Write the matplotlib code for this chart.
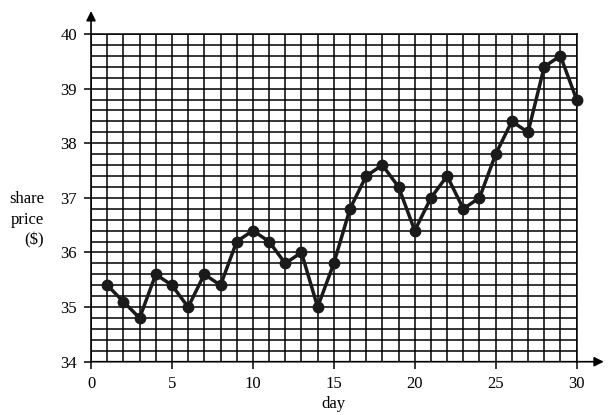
import numpy as np
import matplotlib.pyplot as plt
from matplotlib.ticker import MultipleLocator

days = list(range(1, 31))
price = [35.4, 35.1, 34.8, 35.6, 35.4, 35.0, 35.6, 35.4, 36.2, 36.4,
         36.2, 35.8, 36.0, 35.0, 35.8, 36.8, 37.4, 37.6, 37.2, 36.4,
         37.0, 37.4, 36.8, 37.0, 37.8, 38.4, 38.2, 39.4, 39.6, 38.8]
x_ticks = [0, 5, 10, 15, 20, 25, 30]
y_ticks = [34, 35, 36, 37, 38, 39, 40]

plt.rcParams['font.family'] = ['Liberation Serif', 'DejaVu Serif']

fig = plt.figure(figsize=(6.13, 4.15), dpi=100)
ax = fig.add_axes([0.1485, 0.1284, 0.7921, 0.7897])

ax.set_xlim(0, 30)
ax.set_ylim(34, 40)
ax.set_xticks(x_ticks)
ax.set_yticks(y_ticks)
ax.xaxis.set_minor_locator(MultipleLocator(1))
ax.yaxis.set_minor_locator(MultipleLocator(0.2))
ax.grid(True, which='both', color='black', lw=1.1)
ax.tick_params(which='major', direction='out', length=5, width=1.1,
               labelsize=12, colors='black', pad=5)
ax.tick_params(which='minor', length=0)

for s in ['left', 'bottom']:
    ax.spines[s].set_visible(False)
for s in ['top', 'right']:
    ax.spines[s].set_linewidth(1.1)

# axis arrows
ax.annotate('', xy=(1.056, 0), xytext=(0, 0), xycoords='axes fraction',
            arrowprops=dict(arrowstyle='-|>', color='black', lw=1.2,
                            mutation_scale=14, shrinkA=0, shrinkB=0),
            annotation_clip=False)
ax.annotate('', xy=(0, 1.07), xytext=(0, 0), xycoords='axes fraction',
            arrowprops=dict(arrowstyle='-|>', color='black', lw=1.2,
                            mutation_scale=14, shrinkA=0, shrinkB=0),
            annotation_clip=False)

ax.plot(days, price, color='#1a1a1a', lw=2.5, marker='o', markersize=7.5,
        clip_on=False, zorder=5)

fig.text(0.544, 0.026, 'day', ha='center', va='center', fontsize=12)
fig.text(0.072, 0.47, 'share\nprice\n($)', ha='right', va='center',
         fontsize=12, linespacing=1.4, multialignment='right')

plt.savefig('out.png', dpi=100)
